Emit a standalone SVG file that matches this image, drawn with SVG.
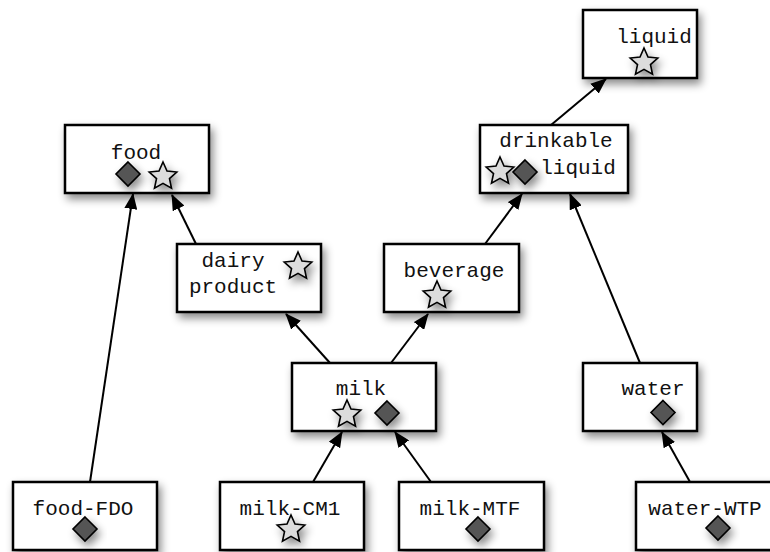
<svg xmlns="http://www.w3.org/2000/svg" xmlns:xlink="http://www.w3.org/1999/xlink" width="770" height="552" viewBox="0 0 770 552">
  <style>
    .box { fill: #ffffff; stroke: #000000; stroke-width: 2.5; filter: url(#shadow); }
    .label { font-family: "Liberation Mono", "Courier New", monospace; font-size: 21px; fill: #111111; text-anchor: middle; }
    .edge { stroke: #000000; stroke-width: 2; fill: none; marker-end: url(#arrow); }
    .star { fill: #dcdcdc; stroke: #000000; stroke-width: 1.6; stroke-linejoin: miter; filter: url(#shadow); }
    .diamond { fill: #555555; stroke: #000000; stroke-width: 1.6; filter: url(#shadow); }
  </style>
  <defs>
    <filter id="shadow" x="-30%" y="-30%" width="170%" height="180%">
      <feDropShadow dx="3" dy="5" stdDeviation="4" flood-color="#000000" flood-opacity="0.45"/>
    </filter>
    <marker id="arrow" markerUnits="userSpaceOnUse" markerWidth="16" markerHeight="13" refX="15" refY="6.5" orient="auto">
      <path d="M0,0 L16,6.5 L0,13 Z" fill="#000000"/>
    </marker>
    <path id="starShape" d="M0,-14.5 L4,-5.5 L13.79,-4.48 L6.47,2.1 L8.52,11.73 L0,6.8 L-8.52,11.73 L-6.47,2.1 L-13.79,-4.48 L-4,-5.5 Z"/>
    <path id="diamondShape" d="M0,-12 L12,0 L0,12 L-12,0 Z"/>
  </defs>

  <rect width="770" height="552" fill="#ffffff"/>

  <!-- connectors: subclass / instance-of links, arrow points to the parent -->
  <g id="connectors">
    <line class="edge" x1="90" y1="482" x2="133" y2="194"/>
    <line class="edge" x1="196" y1="244" x2="172" y2="195"/>
    <line class="edge" x1="330" y1="363" x2="286" y2="314"/>
    <line class="edge" x1="391" y1="363" x2="428" y2="314"/>
    <line class="edge" x1="485" y1="244" x2="522" y2="194"/>
    <line class="edge" x1="551" y1="125" x2="606" y2="79"/>
    <line class="edge" x1="640" y1="363" x2="570" y2="194"/>
    <line class="edge" x1="313" y1="482" x2="342" y2="432"/>
    <line class="edge" x1="431" y1="482" x2="395" y2="432"/>
    <line class="edge" x1="690" y1="482" x2="662" y2="432"/>
  </g>

  <g id="liquid">
    <rect class="box" x="583" y="10" width="114" height="68"/>
    <text class="label" x="654" y="43">liquid</text>
    <use class="star" xlink:href="#starShape" transform="translate(644,62.5)"/>
  </g>

  <g id="food">
    <rect class="box" x="65" y="125" width="144" height="68"/>
    <text class="label" x="136" y="159">food</text>
    <use class="diamond" xlink:href="#diamondShape" transform="translate(128,174)"/>
    <use class="star" xlink:href="#starShape" transform="translate(163,176.5)"/>
  </g>

  <g id="drinkable-liquid">
    <rect class="box" x="480" y="125" width="148" height="68"/>
    <text class="label" x="556" y="147">drinkable</text>
    <text class="label" x="578" y="174">liquid</text>
    <use class="star" xlink:href="#starShape" transform="translate(500,171.5)"/>
    <use class="diamond" xlink:href="#diamondShape" transform="translate(525,172)"/>
  </g>

  <g id="dairy-product">
    <rect class="box" x="177" y="244" width="144" height="68"/>
    <text class="label" x="233" y="267">dairy</text>
    <text class="label" x="233" y="293">product</text>
    <use class="star" xlink:href="#starShape" transform="translate(298,266.5)"/>
  </g>

  <g id="beverage">
    <rect class="box" x="384" y="244" width="135" height="68"/>
    <text class="label" x="454" y="277">beverage</text>
    <use class="star" xlink:href="#starShape" transform="translate(437,295.5)"/>
  </g>

  <g id="milk">
    <rect class="box" x="292" y="363" width="144" height="68"/>
    <text class="label" x="361" y="395">milk</text>
    <use class="star" xlink:href="#starShape" transform="translate(347,414.5)"/>
    <use class="diamond" xlink:href="#diamondShape" transform="translate(387,413)"/>
  </g>

  <g id="water">
    <rect class="box" x="583" y="363" width="114" height="68"/>
    <text class="label" x="653" y="395">water</text>
    <use class="diamond" xlink:href="#diamondShape" transform="translate(663,412.5)"/>
  </g>

  <g id="food-FDO">
    <rect class="box" x="13" y="482" width="144" height="68"/>
    <text class="label" x="83" y="515">food-FDO</text>
    <use class="diamond" xlink:href="#diamondShape" transform="translate(85,529)"/>
  </g>

  <g id="milk-CM1">
    <rect class="box" x="220" y="482" width="144" height="68"/>
    <text class="label" x="290" y="515">milk-CM1</text>
    <use class="star" xlink:href="#starShape" transform="translate(291,529.5)"/>
  </g>

  <g id="milk-MTF">
    <rect class="box" x="399" y="482" width="145" height="68"/>
    <text class="label" x="470" y="515">milk-MTF</text>
    <use class="diamond" xlink:href="#diamondShape" transform="translate(478,529)"/>
  </g>

  <g id="water-WTP">
    <rect class="box" x="636" y="482" width="142" height="68"/>
    <text class="label" x="705" y="515">water-WTP</text>
    <use class="diamond" xlink:href="#diamondShape" transform="translate(718,528)"/>
  </g>
</svg>
